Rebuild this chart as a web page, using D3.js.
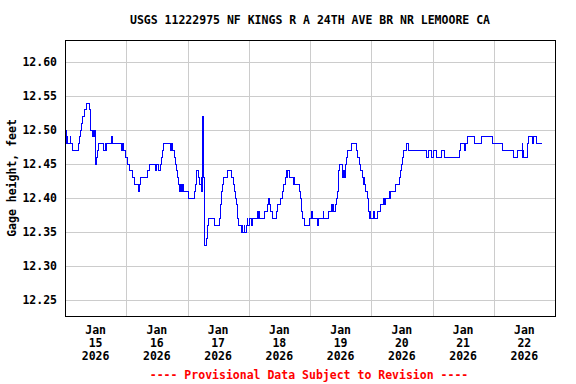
<!DOCTYPE html>
<html>
<head>
<meta charset="utf-8">
<script src="https://cdn.jsdelivr.net/npm/d3@7"></script>
<style>
  body { margin: 0; background: #fff; }
  svg text { font-family: "DejaVu Sans Mono", monospace; font-weight: bold; font-size: 11.5px; }
</style>
</head>
<body>
<div id="chart"></div>
<script>
// Gage height, 15-min steps, hours after Jan 15 2026 00:00 -> feet
const hours = [
  0, 0.25, 0.5, 0.75, 1.0, 2.1, 2.35, 3.1, 5.1, 5.5, 6.0, 6.4, 7.05, 7.45, 8.35, 9.7, 9.9, 10.1, 10.6, 11.0,
  11.25, 11.5, 11.9, 12.1, 12.35, 12.65, 13.05, 15.15, 15.7, 16.2, 16.45, 18.15, 18.55, 22.05, 22.45, 23.0,
  23.7, 24.5, 25.45, 26.45, 27.25, 28.9, 29.25, 29.65, 32.5, 33.3, 35.5, 35.95, 36.55, 37.35, 37.75, 38.1,
  38.7, 41.25, 41.8, 42.3, 42.85, 43.2, 43.6, 44.0, 44.4, 44.95, 45.35, 45.55, 45.95, 46.5, 48.45, 50.8,
  51.2, 51.45, 51.7, 52.4, 52.6, 53.4, 53.6, 53.8, 54.05, 54.2, 54.4, 54.6, 54.75, 55.5, 55.75, 56.0, 56.25,
  58.75, 60.45, 60.75, 61.0, 61.25, 61.5, 61.8, 62.3, 63.85, 65.15, 65.85, 66.5, 66.8, 67.1, 67.4, 67.65,
  67.9, 69.0, 69.55, 69.7, 70.15, 70.3, 71.05, 71.5, 71.7, 72.1, 73.25, 73.55, 75.35, 75.6, 75.9, 76.3,
  78.25, 79.25, 79.55, 80.15, 80.5, 81.25, 82.8, 83.45, 84.25, 85.15, 85.8, 86.3, 86.6, 87.1, 87.3, 88.05,
  89.35, 89.75, 89.95, 91.95, 92.25, 92.6, 92.85, 93.05, 93.9, 95.9, 96.5, 96.8, 98.85, 99.25, 101.1,
  101.35, 103.35, 104.25, 104.5, 105.0, 105.3, 105.8, 106.3, 106.7, 107.0, 107.25, 107.5, 108.55, 109.05,
  109.45, 110.0, 110.25, 110.5, 112.35, 114.05, 114.55, 115.2, 115.85, 116.5, 116.9, 117.15, 117.45, 117.8,
  118.35, 118.75, 119.1, 119.4, 119.6, 119.9, 121.0, 121.4, 122.6, 123.55, 124.9, 125.3,
  125.7, 127.0, 127.25, 127.5, 129.45, 130.9, 131.4, 131.8, 132.05, 132.7, 133.75, 134.7, 141.6, 142.5,
  143.8, 144.5, 145.75, 147.7, 148.65, 154.4, 154.9, 156.45, 156.75, 157.9, 160.55, 163.1, 167.7, 171.6,
  175.55, 177.5, 179.1, 179.35, 179.6, 179.85, 181.15, 181.7, 183.1, 183.4, 184.7, 186.8
];
const gage = [
  12.51, 12.50, 12.48, 12.49, 12.48, 12.49, 12.48, 12.47, 12.48, 12.49, 12.50, 12.51, 12.52, 12.53, 12.54, 12.53, 12.51, 12.50, 12.49, 12.50,
  12.49, 12.50, 12.47, 12.45, 12.46, 12.47, 12.48, 12.47, 12.48, 12.47, 12.48, 12.49, 12.48, 12.47, 12.48, 12.47,
  12.46, 12.45, 12.44, 12.43, 12.42, 12.41, 12.42, 12.43, 12.44, 12.45, 12.44, 12.45, 12.44, 12.45, 12.46, 12.47,
  12.48, 12.47, 12.48, 12.47, 12.46, 12.45, 12.44, 12.43, 12.42, 12.41, 12.42, 12.41, 12.42, 12.41, 12.40, 12.41,
  12.42, 12.43, 12.44, 12.43, 12.42, 12.43, 12.41, 12.42, 12.52, 12.45, 12.43, 12.34, 12.33, 12.34, 12.35, 12.36, 12.37,
  12.36, 12.37, 12.38, 12.39, 12.40, 12.41, 12.42, 12.43, 12.44, 12.43, 12.42, 12.41, 12.40, 12.39, 12.38, 12.37,
  12.36, 12.35, 12.36, 12.35, 12.36, 12.35, 12.36, 12.37, 12.36, 12.37, 12.36, 12.37, 12.38, 12.37, 12.38, 12.37,
  12.38, 12.39, 12.40, 12.39, 12.38, 12.37, 12.38, 12.39, 12.40, 12.41, 12.42, 12.43, 12.44, 12.43, 12.44, 12.43,
  12.42, 12.43, 12.42, 12.41, 12.40, 12.39, 12.38, 12.37, 12.36, 12.37, 12.38, 12.37, 12.36, 12.37, 12.38,
  12.37, 12.38, 12.39, 12.38, 12.39, 12.38, 12.39, 12.40, 12.41, 12.43, 12.44, 12.45, 12.43, 12.44,
  12.43, 12.45, 12.46, 12.47, 12.48, 12.47, 12.46, 12.45, 12.44, 12.43, 12.42, 12.43, 12.42, 12.41,
  12.40, 12.39, 12.38, 12.37, 12.38, 12.37, 12.38, 12.37, 12.38, 12.39, 12.40, 12.39,
  12.40, 12.41, 12.40, 12.41, 12.42, 12.43, 12.44, 12.45, 12.46, 12.47, 12.48, 12.47, 12.46, 12.47,
  12.46, 12.47, 12.46, 12.47, 12.46, 12.47, 12.48, 12.47, 12.48, 12.49, 12.48, 12.49, 12.48, 12.47,
  12.46, 12.47, 12.48, 12.46, 12.47, 12.46, 12.48, 12.49, 12.48, 12.49, 12.48, 12.48
];
const yTicks = [12.25, 12.30, 12.35, 12.40, 12.45, 12.50, 12.55, 12.60];
const dayLabels = [15, 16, 17, 18, 19, 20, 21, 22];

const title = 'USGS 11222975 NF KINGS R A 24TH AVE BR NR LEMOORE CA';
const yLabel = 'Gage height, feet';
const footer = '---- Provisional Data Subject to Revision ----';

const width = 576, height = 384;
const margin = { top: 40, right: 21, bottom: 68, left: 65 };
const innerW = width - margin.left - margin.right;
const innerH = height - margin.top - margin.bottom;

const base = new Date(2026, 0, 15);
const at = h => new Date(base.getTime() + h * 3600e3);

const x = d3.scaleTime()
    .domain([base, d3.timeDay.offset(base, 8)])
    .range([0, innerW]);
const y = d3.scaleLinear()
    .domain([12.2264, 12.6328])
    .range([innerH, 0]);

const svg = d3.select('#chart').append('svg')
    .attr('width', width)
    .attr('height', height);

const g = svg.append('g')
    .attr('transform', `translate(${margin.left},${margin.top})`);

// grille horizontale + labels Y
g.append('g')
    .call(d3.axisLeft(y).tickValues(yTicks).tickSize(-innerW).tickPadding(8).tickFormat(d3.format('.2f')))
    .call(a => a.select('.domain').remove())
    .call(a => a.selectAll('line').attr('stroke', '#cccccc').attr('shape-rendering', 'crispEdges'))
    .call(a => a.selectAll('text').attr('fill', '#000').style('font-size', '11.5px')
        .style('font-family', '"DejaVu Sans Mono", monospace').style('font-weight', 'bold'));

// grille verticale a minuit
const midnights = dayLabels.slice(1).map(d => new Date(2026, 0, d));
g.append('g')
    .attr('transform', `translate(0,${innerH})`)
    .call(d3.axisBottom(x).tickValues(midnights).tickSize(-innerH).tickFormat(''))
    .call(a => a.select('.domain').remove())
    .call(a => a.selectAll('line').attr('stroke', '#cccccc').attr('shape-rendering', 'crispEdges'));

// labels X a midi
const fmtYear = d3.timeFormat('%Y');
dayLabels.forEach(d => {
    const noon = new Date(2026, 0, d, 12);
    const t = g.append('text')
        .attr('x', x(noon))
        .attr('y', innerH + 18)
        .attr('text-anchor', 'middle')
        .attr('fill', '#000');
    t.append('tspan').attr('x', x(noon)).text(d3.timeFormat('%b')(noon));
    t.append('tspan').attr('x', x(noon)).attr('dy', 13).text(d3.timeFormat('%d')(noon));
    t.append('tspan').attr('x', x(noon)).attr('dy', 13).text(fmtYear(noon));
});

// serie
const points = hours.map((h, i) => [at(h), gage[i]]);
g.append('path')
    .datum(points)
    .attr('fill', 'none')
    .attr('stroke', '#0000ff')
    .attr('stroke-width', 1)
    .attr('shape-rendering', 'crispEdges')
    .attr('d', d3.line().curve(d3.curveStepAfter).x(d => x(d[0])).y(d => y(d[1])));

// cadre
g.append('rect')
    .attr('x', 0.5).attr('y', 0.5)
    .attr('width', innerW).attr('height', innerH)
    .attr('fill', 'none')
    .attr('stroke', '#000')
    .attr('stroke-width', 1);

svg.append('text')
    .attr('x', margin.left + innerW / 2)
    .attr('y', 24)
    .attr('text-anchor', 'middle')
    .attr('fill', '#000')
    .text(title);

svg.append('text')
    .attr('transform', `translate(16,${margin.top + innerH / 2}) rotate(-90)`)
    .attr('text-anchor', 'middle')
    .attr('fill', '#000')
    .text(yLabel);

svg.append('text')
    .attr('x', 309)
    .attr('y', 379)
    .attr('text-anchor', 'middle')
    .attr('fill', '#ff0000')
    .text(footer);
</script>
</body>
</html>
